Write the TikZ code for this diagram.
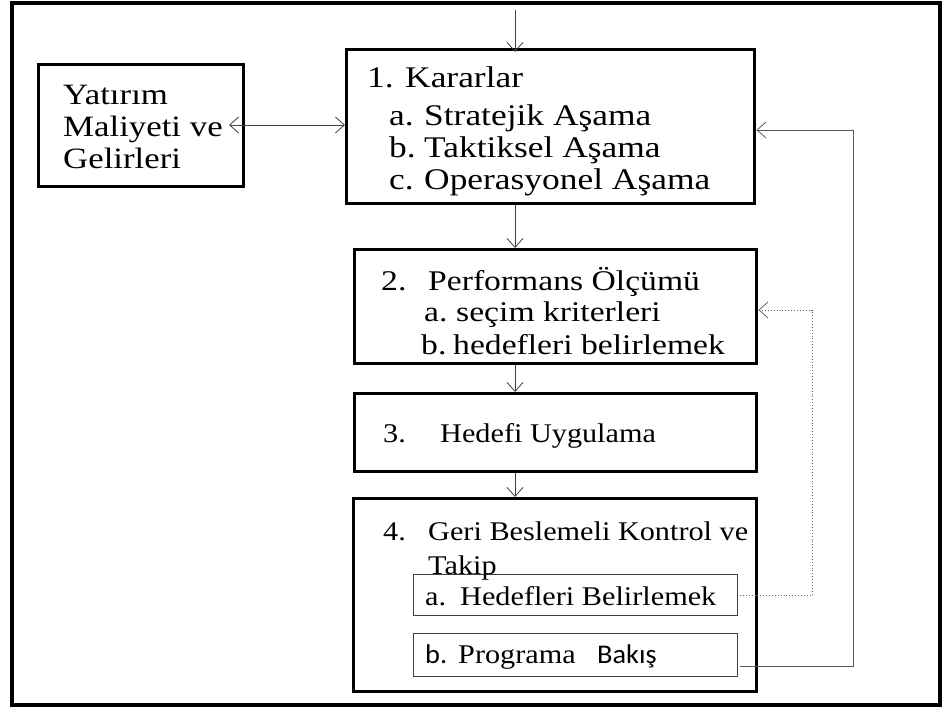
\documentclass[tikz,border=0pt]{standalone}
\usepackage{fontspec}
\setmainfont[FakeStretch=1.12]{Liberation Serif}
\newfontfamily\wideserif[FakeStretch=1.18]{Liberation Serif}
\newfontfamily\labelsans[FakeStretch=1.05]{Carlito}
\usetikzlibrary{arrows.meta}
\begin{document}
\begin{tikzpicture}[x=1pt,y=-1pt,
  frame/.style={draw=black,line width=3.2pt},
  stage/.style={draw=black,line width=3.4pt,inner sep=0pt,anchor=north west},
  subbox/.style={draw=black!75,line width=1pt,inner sep=0pt,anchor=north west},
  barb/.tip={Straight Barb[length=9pt,width=16pt,line width=0.8pt]},
  flow/.style={draw=black!75,line width=0.9pt,-barb},
  loop/.style={draw=black!65,line width=1pt,-barb},
  dotloop/.style={draw=black!60,line width=0.9pt,dotted,-barb},
  txt/.style={anchor=base west,inner sep=0pt,font=\fontsize{27}{32}\selectfont},
  txtA/.style={anchor=base west,inner sep=0pt,font=\fontsize{30}{34}\wideserif},
  txtY/.style={anchor=base west,inner sep=0pt,font=\fontsize{29.5}{34}\wideserif},
  txtB/.style={anchor=base west,inner sep=0pt,font=\fontsize{28.5}{33}\wideserif},
  txtS/.style={anchor=base west,inner sep=0pt,font=\fontsize{27}{32}\labelsans},
]
\useasboundingbox (0,0) rectangle (944,709);
\draw[frame] (12,3) rectangle (940,705);

% boxes
\node[stage,minimum width=205pt,minimum height=122pt] (yat) at (37,63) {};
\node[stage,minimum width=408pt,minimum height=154pt] (b1) at (345,48) {};
\node[stage,minimum width=402pt,minimum height=114pt] (b2) at (353,248) {};
\node[stage,minimum width=402pt,minimum height=78pt] (b3) at (353,392) {};
\node[stage,minimum width=403pt,minimum height=193pt] (b4) at (352,497) {};
\node[subbox,minimum width=324pt,minimum height=41pt] (ba) at (413,574) {};
\node[subbox,minimum width=324pt,minimum height=43pt] (bb) at (413,633) {};

% texts
\node[txtY] (y1) at (63,104) {Yatırım};
\node[txtY] (y2) at (63,136) {Maliyeti ve};
\node[txtY] (y3) at (63,168) {Gelirleri};

\node[txtA] (n1) at (367,87) {1.};
\node[txtA] (t1) at (405,87) {Kararlar};
\node[txtA] (n1a) at (389,125) {a.};
\node[txtA] (t1a) at (424,125) {Stratejik Aşama};
\node[txtA] (n1b) at (389,157) {b.};
\node[txtA] (t1b) at (424,157) {Taktiksel Aşama};
\node[txtA] (n1c) at (389,189) {c.};
\node[txtA] (t1c) at (424,189) {Operasyonel Aşama};

\node[txtB] (n2) at (381,290) {2.};
\node[txtB] (t2) at (428,290) {Performans Ölçümü};
\node[txtB] (n2a) at (424,321) {a.};
\node[txtB] (t2a) at (456,321) {seçim kriterleri};
\node[txtB] (n2b) at (421,354) {b.};
\node[txtB] (t2b) at (453,354) {hedefleri belirlemek};

\node[txt] (n3) at (383,442) {3.};
\node[txt] (t3) at (440,442) {Hedefi Uygulama};

\node[txt] (n4) at (383,540) {4.};
\node[txt] (t4) at (428,540) {Geri Beslemeli Kontrol ve};
\node[txt] (t4b) at (428,574) {Takip};
\node[txt] (n4a) at (425,605) {a.};
\node[txt] (t4a) at (460,605) {Hedefleri Belirlemek};
\node[txtS] (n4b) at (425,663) {b.};
\node[txt] (t4p) at (458,663) {Programa};
\node[txtS] (t4k) at (597,663) {Bakış};

% main flow
\coordinate (src) at (515,10);
\draw[flow] (src) -- ([yshift=-4pt]src |- b1.north);
\draw[flow] (b1.south -| src) -- (b2.north -| src);
\draw[flow] (b2.south -| src) -- (b3.north -| src);
\draw[flow] (b3.south -| src) -- (b4.north -| src);

% two-way link to the investment box
\coordinate (yl) at (229,125);
\draw[flow,barb-barb] (yl) -- (yl -| b1.west);

% feedback loops
\coordinate (fb) at (740,666);
\coordinate (fbr) at (853,130);
\draw[loop] (fb) -| (fbr) -- (fbr -| b1.east);
\coordinate (fa) at (740,595);
\coordinate (far) at (812,310);
\draw[dotloop] (fa) -| (far) -- (far -| b2.east);
\end{tikzpicture}
\end{document}
